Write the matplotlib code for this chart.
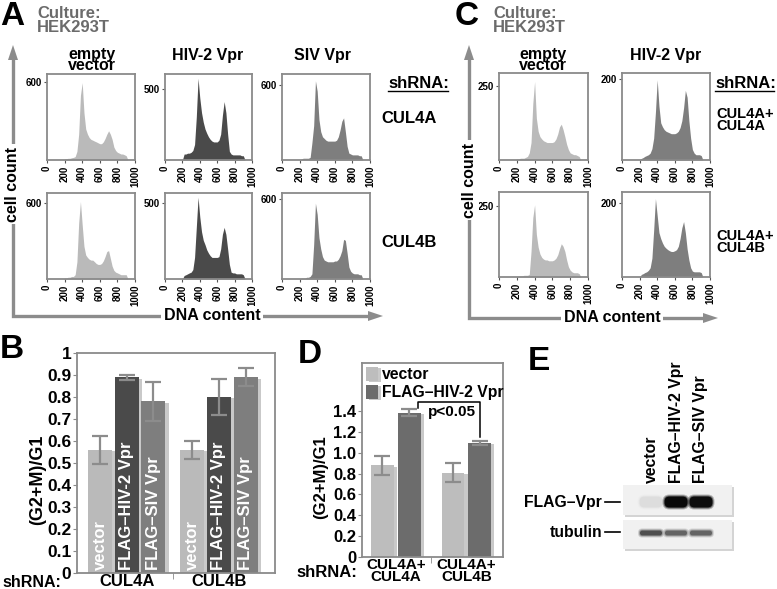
import matplotlib
matplotlib.use("Agg")
import matplotlib.pyplot as plt
import matplotlib.patheffects as pe
from matplotlib.patches import Polygon, Rectangle, FancyBboxPatch

plt.rcParams['font.family'] = ['Liberation Sans', 'DejaVu Sans']
plt.rcParams['font.weight'] = 'bold'

W, H = 777, 589

# DNA content positions shared by all histograms
dna = [180, 200, 220, 240, 260, 280, 300, 320, 340, 360, 380, 400, 420, 440,
       460, 480, 500, 520, 540, 560, 580, 600, 620, 640, 660, 680, 700, 720,
       740, 760, 780, 800, 820, 840, 860, 880, 900, 920]
hist_xticks = [0, 200, 400, 600, 800, 1000]

# panel A, cell counts (rows: shRNA CUL4A / CUL4B)
a_empty_4a = [0, 7, 10, 13, 13, 17, 20, 26, 66, 198, 495, 594, 363, 238, 198, 172, 158, 152, 145, 139,
              132, 125, 125, 139, 165, 198, 224, 198, 158, 99, 73, 59, 53, 46, 46, 40, 33, 0]
a_hiv_4a = [0, 0, 42, 42, 48, 48, 54, 67, 109, 303, 575, 436, 333, 266, 218, 188, 163, 145, 133, 127,
            127, 127, 139, 182, 315, 411, 333, 182, 61, 42, 36, 36, 36, 36, 36, 30, 30, 0]
a_siv_4a = [0, 0, 7, 14, 14, 14, 14, 21, 138, 275, 633, 550, 323, 227, 186, 172, 158, 151, 151, 151,
            151, 151, 158, 186, 241, 310, 337, 227, 110, 55, 48, 41, 41, 41, 41, 34, 34, 0]
a_empty_4b = [0, 7, 7, 14, 14, 20, 20, 34, 136, 441, 611, 428, 258, 190, 170, 156, 149, 149, 136, 122,
              115, 115, 122, 143, 177, 217, 224, 163, 102, 68, 54, 48, 41, 34, 34, 34, 34, 0]
a_hiv_4b = [0, 0, 23, 28, 34, 40, 45, 62, 142, 340, 538, 408, 311, 255, 226, 192, 170, 153, 142, 142,
            142, 142, 147, 198, 294, 340, 294, 198, 96, 45, 40, 40, 34, 34, 34, 34, 28, 0]
a_siv_4b = [0, 0, 6, 6, 6, 13, 13, 19, 39, 258, 568, 484, 310, 226, 168, 142, 135, 129, 129, 129,
            129, 135, 135, 148, 174, 213, 297, 290, 194, 90, 58, 45, 39, 39, 39, 32, 32, 0]

# panel C, cell counts (rows: CUL4A+CUL4A / CUL4A+CUL4B)
c_empty_aa = [0, 3, 3, 6, 6, 6, 9, 12, 24, 59, 191, 265, 141, 97, 79, 71, 65, 62, 59, 59,
              59, 59, 62, 71, 88, 112, 121, 103, 79, 53, 35, 24, 21, 18, 18, 15, 12, 0]
c_hiv_aa = [0, 0, 4, 6, 9, 11, 13, 17, 28, 54, 118, 198, 133, 92, 82, 75, 71, 69, 67, 65,
            65, 65, 67, 71, 80, 97, 129, 172, 155, 97, 54, 26, 17, 13, 13, 13, 11, 0]
c_empty_ab = [0, 0, 3, 3, 3, 6, 6, 6, 9, 90, 209, 254, 150, 105, 81, 69, 63, 60, 60, 57,
              57, 57, 60, 66, 78, 99, 117, 108, 90, 60, 36, 24, 18, 15, 15, 15, 12, 0]
c_hiv_ab = [0, 0, 7, 9, 12, 14, 18, 25, 51, 127, 212, 166, 120, 104, 92, 83, 78, 74, 71, 69,
            69, 71, 74, 83, 104, 133, 150, 120, 76, 46, 25, 16, 14, 14, 14, 14, 12, 0]

# panel B, (G2+M)/G1
b_groups = ['CUL4A', 'CUL4B']
b_series = ['vector', 'FLAG\u2013HIV-2 Vpr', 'FLAG\u2013SIV Vpr']
b_vector = [0.56, 0.56]
b_vector_err = [0.063, 0.04]
b_hiv = [0.89, 0.80]
b_hiv_err = [0.012, 0.081]
b_siv = [0.78, 0.89]
b_siv_err = [0.09, 0.041]

# panel D
d_groups = ['CUL4A+\nCUL4A', 'CUL4A+\nCUL4B']
d_vector = [0.88, 0.81]
d_vector_err = [0.093, 0.094]
d_hiv = [1.385, 1.093]
d_hiv_err = [0.03, 0.017]

# panel E, band intensity per lane
e_lanes = ['vector', 'FLAG\u2013HIV-2 Vpr', 'FLAG\u2013SIV Vpr']
e_flag_vpr = [0.05, 1.0, 0.97]
e_tubulin = [0.55, 0.45, 0.45]

LIGHT, DARK, MID = '#bababa', '#4a4a4a', '#7e7e7e'
SPINE = '#8a8a8a'

fig = plt.figure(figsize=(W / 100, H / 100), dpi=100)


def px_axes(x0, y0, x1, y1):
    return fig.add_axes([x0 / W, 1 - y1 / H, (x1 - x0) / W, (y1 - y0) / H])


def hist_panel(box, counts, ymax, ytick, color):
    ax = px_axes(*box)
    ax.fill_between(dna, counts, color=color, lw=0)
    ax.set_xlim(0, 1000)
    ax.set_ylim(0, ymax)
    ax.set_xticks(hist_xticks)
    ax.set_xticklabels([str(t) for t in hist_xticks], rotation=90)
    ax.set_yticks([ytick])
    for s in ax.spines.values():
        s.set_color(SPINE)
        s.set_linewidth(1.3)
    ax.tick_params(labelsize=7, length=2.5, width=0.8, color='#555555', pad=1.5)
    return ax


# panel A histograms
a_cols = [(47, 135), (165, 252), (282, 370)]
a_rows = [(74, 160), (193, 279)]
a_data = [[(a_empty_4a, 660, 600, LIGHT), (a_hiv_4a, 605, 500, DARK), (a_siv_4a, 688, 600, MID)],
          [(a_empty_4b, 679, 600, LIGHT), (a_hiv_4b, 566, 500, DARK), (a_siv_4b, 645, 600, MID)]]
for r, (y0, y1) in enumerate(a_rows):
    for c, (x0, x1) in enumerate(a_cols):
        cnt, ymax, yt, col = a_data[r][c]
        hist_panel((x0, y0, x1, y1), cnt, ymax, yt, col)

# panel C histograms
c_cols = [(499, 588), (622, 710)]
c_rows = [(73, 160), (192, 277)]
c_data = [[(c_empty_aa, 294, 250, LIGHT), (c_hiv_aa, 215, 200, MID)],
          [(c_empty_ab, 299, 250, LIGHT), (c_hiv_ab, 230, 200, MID)]]
for r, (y0, y1) in enumerate(c_rows):
    for c, (x0, x1) in enumerate(c_cols):
        cnt, ymax, yt, col = c_data[r][c]
        hist_panel((x0, y0, x1, y1), cnt, ymax, yt, col)

# panel B bars
axb = px_axes(77, 353, 275, 573)
shadow = [pe.SimplePatchShadow(offset=(2.5, -1), shadow_rgbFace='#888888', alpha=0.45), pe.Normal()]
bw, off = 0.26, 0.29
ekw = dict(fmt='none', ecolor='#8c8c8c', elinewidth=1.6, capsize=5.5, capthick=1.6, zorder=4)
for k, (vals, errs, col) in enumerate([(b_vector, b_vector_err, LIGHT),
                                       (b_hiv, b_hiv_err, DARK),
                                       (b_siv, b_siv_err, MID)]):
    xs = [i + (k - 1) * off for i in range(len(b_groups))]
    bars = axb.bar(xs, vals, bw, color=col, zorder=2)
    for b in bars:
        b.set_path_effects(shadow)
    axb.errorbar(xs, vals, yerr=errs, **ekw)
    for x in xs:
        axb.text(x, 0.012, b_series[k], rotation=90, ha='center', va='bottom',
                 color='white', fontsize=12, zorder=5)
axb.set_xlim(-0.54, 1.61)
axb.set_ylim(0, 1)
axb.set_yticks([0, 0.1, 0.2, 0.3, 0.4, 0.5, 0.6, 0.7, 0.8, 0.9, 1.0])
axb.set_yticklabels(['0', '0.1', '0.2', '0.3', '0.4', '0.5', '0.6', '0.7', '0.8', '0.9', '1'])
axb.set_xticks([0, 1])
axb.set_xticklabels(b_groups)
axb.set_xticks([0.5], minor=True)
axb.tick_params(axis='x', which='major', length=0, labelsize=12, pad=1)
axb.tick_params(axis='x', which='minor', length=4, color=SPINE, direction='out')
axb.tick_params(axis='y', labelsize=12.5, length=3, color=SPINE, pad=1)
for s in axb.spines.values():
    s.set_color(SPINE)
    s.set_linewidth(1.3)

# panel D bars
axd = px_axes(362, 363, 503, 557)
dw, doff = 0.32, 0.19
hv = []
for k, (vals, errs, col, lab) in enumerate([(d_vector, d_vector_err, '#bdbdbd', 'vector'),
                                            (d_hiv, d_hiv_err, '#6c6c6c', 'FLAG\u2013HIV-2 Vpr')]):
    xs = [i + (2 * k - 1) * doff for i in range(len(d_groups))]
    bars = axd.bar(xs, vals, dw, color=col, zorder=2, label=lab)
    for b in bars:
        b.set_path_effects(shadow)
    axd.errorbar(xs, vals, yerr=errs, **ekw)
    hv.append(bars)
axd.plot([0.31, 0.31, 1.19, 1.19], [1.43, 1.49, 1.49, 1.15], color='black', lw=1.1, zorder=5)
axd.text(0.79, 1.39, 'p<0.05', ha='center', va='center', fontsize=11)
axd.set_xlim(-0.48, 1.52)
axd.set_ylim(0, 1.86)
dt = [0, 0.2, 0.4, 0.6, 0.8, 1.0, 1.2, 1.4]
axd.set_yticks(dt)
axd.set_yticklabels(['0'] + ['%.1f' % t for t in dt[1:]])
axd.set_xticks([0, 1])
axd.set_xticklabels(d_groups, linespacing=0.8)
axd.set_xticks([0.5], minor=True)
axd.tick_params(axis='x', which='major', length=0, labelsize=11, pad=1)
axd.tick_params(axis='x', which='minor', length=4, color=SPINE, direction='out')
axd.tick_params(axis='y', labelsize=12, length=3, color=SPINE, pad=1)
for s in axd.spines.values():
    s.set_color(SPINE)
    s.set_linewidth(1.3)
leg = axd.legend(handles=hv, loc='upper left', bbox_to_anchor=(0.0, 1.0), frameon=False,
                 fontsize=11.3, handlelength=0.75, handleheight=1.0, handletextpad=0.25,
                 labelspacing=0.15, borderaxespad=0.15, borderpad=0.1)

# overlay for free text, arrows and the blot
ov = fig.add_axes([0, 0, 1, 1], zorder=5)
ov.set_xlim(0, W)
ov.set_ylim(H, 0)
ov.axis('off')

ARROW = '#8c8c8c'


def axis_arrows(x0, y0, xtip, ytip, ycount, xdna):
    ov.plot([x0, x0, xtip - 12], [ytip + 12, y0, y0], color=ARROW, lw=2.4,
            solid_joinstyle='miter', zorder=1)
    ov.add_patch(Polygon([[x0, ytip], [x0 - 5, ytip + 15], [x0 + 5, ytip + 15]], color=ARROW, lw=0))
    ov.add_patch(Polygon([[xtip, y0], [xtip - 15, y0 - 5], [xtip - 15, y0 + 5]], color=ARROW, lw=0))
    ov.text(x0, ycount, 'cell count', rotation=90, ha='center', va='center', fontsize=11.5,
            bbox=dict(facecolor='white', edgecolor='none', pad=2), zorder=3)
    ov.text(xdna, y0, 'DNA content', ha='center', va='center', fontsize=11.5,
            bbox=dict(facecolor='white', edgecolor='none', pad=2), zorder=3)


axis_arrows(13, 316, 383, 45, 184, 212)
axis_arrows(469, 318, 718, 45, 180, 612)

# panel letters and culture labels
for x, y, s in [(0, 25, 'A'), (455, 25, 'C'), (0, 358, 'B'), (298, 363, 'D'), (528, 370, 'E')]:
    ov.text(x, y, s, fontsize=24, va='baseline', ha='left')
for x in (37, 493):
    ov.text(x, 32, 'Culture:\nHEK293T', fontsize=12, color='#6b6b6b', va='baseline',
            linespacing=0.9)

# column titles
for xc in (92, 543):
    ov.text(xc, 73.5, 'empty\nvector', fontsize=11.5, ha='center', va='bottom', linespacing=0.75)
for xc, s in [(208, 'HIV-2 Vpr'), (322, 'SIV Vpr'), (666, 'HIV-2 Vpr')]:
    ov.text(xc, 60, s, fontsize=11.5, ha='center', va='baseline')

# shRNA row labels
for x, uw in [(388, 60), (715, 59)]:
    ov.text(x, 88, 'shRNA:', fontsize=12, va='baseline')
    ov.plot([x, x + uw], [91, 91], color='black', lw=1)
ov.text(381, 123, 'CUL4A', fontsize=12, va='baseline')
ov.text(381, 247, 'CUL4B', fontsize=12, va='baseline')
for y, s in [(133, 'CUL4A+\nCUL4A'), (255, 'CUL4A+\nCUL4B')]:
    ov.text(716, y, s, fontsize=10.5, va='bottom', linespacing=0.78)

# bar chart side texts
ov.text(38, 480, '(G2+M)/G1', rotation=90, ha='center', va='center', fontsize=13)
ov.text(321, 477, '(G2+M)/G1', rotation=90, ha='center', va='center', fontsize=12)
ov.text(2, 587, 'shRNA:', fontsize=11.5, va='baseline')
ov.text(296, 577, 'shRNA:', fontsize=12, va='baseline')

# panel E western blot
for k, s in enumerate(e_lanes):
    ov.text(651 + 25 * k, 483, s, rotation=90, ha='center', va='bottom', fontsize=11.3)
for y0, y1 in [(485, 515), (520, 549)]:
    ov.add_patch(Rectangle((625, y0 + 2), 109, y1 - y0, color='#d4d4d4', lw=0, zorder=1))
    ov.add_patch(Rectangle((623, y0), 109, y1 - y0, color='#f1f1f1', lw=0, zorder=2))
for k in range(len(e_lanes)):
    xc = 651 + 25 * k
    for a, ya, w, h in [(e_flag_vpr[k], 502, 23, 11), (e_tubulin[k], 533, 22, 5)]:
        for j, fa in enumerate([0.25, 0.45, 1.0]):
            ww, hh = w + 4 - 2 * j, h + 4 - 2 * j
            ov.add_patch(FancyBboxPatch((xc - ww / 2, ya - hh / 2), ww, hh,
                                        boxstyle='round,pad=0,rounding_size=%.1f' % (hh / 2.2),
                                        color='black', alpha=a * fa * 0.9 if j == 2 else a * fa,
                                        lw=0, zorder=3))
ov.text(602, 507, 'FLAG\u2013Vpr', ha='right', va='baseline', fontsize=11.3)
ov.text(602, 537, 'tubulin', ha='right', va='baseline', fontsize=11.3)
ov.plot([605, 620], [502, 502], color='black', lw=1.2)
ov.plot([605, 620], [532, 532], color='black', lw=1.2)

fig.savefig('out.png', dpi=100)
